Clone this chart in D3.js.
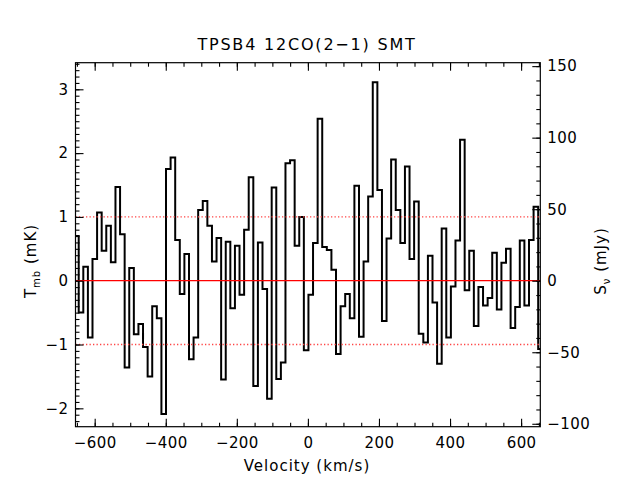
<!DOCTYPE html>
<html>
<head>
<meta charset="utf-8">
<script src="https://cdn.jsdelivr.net/npm/d3@7"></script>
<style>
  body { margin: 0; background: #fff; }
  text { font-family: "DejaVu Sans", sans-serif; fill: #000; }
</style>
</head>
<body>
<div id="chart"></div>
<script>
// spectrum, one value per channel (mK)
var title = "TPSB4  12CO(2\u22121)  SMT";
var xLabel = "Velocity (km/s)";
var chanStart = -657.9, chanWidth = 12.93;   // left edge of first channel, km/s
var tmb = [0.70, -0.50, 0.22, -0.89, 0.34, 1.07, 0.47, 0.86, 0.29, 1.47,
           0.73, -1.36, 0.20, -0.84, -0.68, -1.04, -1.50, -0.40, -0.59, -2.09,
           1.75, 1.93, 0.64, -0.21, 0.42, -1.23, -0.89, 1.11, 1.25, 0.86,
           0.30, 0.67, -1.55, 0.61, -0.43, 0.55, -0.22, 0.80, 1.62, -1.65,
           0.60, -0.13, -1.85, 1.46, -1.54, -1.28, 1.84, 1.89, 0.55, 1.00,
           -1.09, -0.22, 0.59, 2.54, 0.53, 0.48, 0.17, -1.15, -0.40, -0.21,
           -0.59, 1.49, -0.88, 0.30, 1.32, 3.11, 1.42, -0.63, 0.66, 1.90,
           1.11, 0.59, 1.79, 0.34, 1.24, -0.83, -0.97, 0.39, -0.34, -1.30,
           0.82, -0.89, -0.09, 0.63, 2.21, -0.15, 0.47, -0.71, -0.10, -0.39,
           -0.27, 0.44, -0.45, 0.28, 0.50, -0.74, -0.41, 0.63, -0.39, 0.64,
           1.16, -1.07];
var xDomain = [-654, 654];
var yDomain = [-2.288, 3.417];
var mJyPerMK = 44.6;
var xTicks = [-600, -400, -200, 0, 200, 400, 600];
var yTicks = [-2, -1, 0, 1, 2, 3];
var sTicks = [-100, -50, 0, 50, 100, 150];
var refLevels = [-1, 1];

var width = 621,
    height = 488,
    margin = {top: 62.7, right: 80.7, bottom: 61.3, left: 75.5};
var w = width - margin.left - margin.right,
    h = height - margin.top - margin.bottom;

var svg = d3.select("#chart")
    .append("svg")
    .attr("width", width)
    .attr("height", height);

var g = svg.append("g")
    .attr("transform", "translate(" + margin.left + "," + margin.top + ")");

var x = d3.scaleLinear().domain(xDomain).range([0, w]);
var y = d3.scaleLinear().domain(yDomain).range([h, 0]);
var s = d3.scaleLinear().domain(yDomain.map(function(d) { return d * mJyPerMK; })).range([h, 0]);

g.append("clipPath").attr("id", "clip")
  .append("rect").attr("width", w).attr("height", h);

// spectrum as histogram steps
var pts = tmb.map(function(d, i) { return [chanStart + i * chanWidth, d]; });
pts.push([chanStart + tmb.length * chanWidth, tmb[tmb.length - 1]]);

var line = d3.line()
    .x(function(d) { return x(d[0]); })
    .y(function(d) { return y(d[1]); })
    .curve(d3.curveStepAfter);

g.append("path")
    .datum(pts)
    .attr("clip-path", "url(#clip)")
    .attr("fill", "none")
    .attr("stroke", "#000")
    .attr("stroke-width", 2)
    .attr("d", line);

// zero and +-1 mK lines
g.append("line")
    .attr("x1", 0).attr("x2", w)
    .attr("y1", y(0)).attr("y2", y(0))
    .attr("stroke", "#ff0000").attr("stroke-width", 1.3);

g.selectAll(".ref")
  .data(refLevels)
  .enter().append("line")
    .attr("class", "ref")
    .attr("x1", 0).attr("x2", w)
    .attr("y1", function(d) { return y(d); })
    .attr("y2", function(d) { return y(d); })
    .attr("stroke", "#ff4444")
    .attr("stroke-width", 1.3)
    .attr("stroke-dasharray", "1.3,2.2");

// axes
function styleAxis(sel) {
  sel.select(".domain").remove();
  sel.selectAll(".tick line").attr("stroke", "#000").attr("stroke-width", 1.1);
  sel.selectAll("text").attr("font-size", 15).attr("fill", "#000")
     .attr("font-family", "DejaVu Sans").attr("letter-spacing", 0.4);
}

g.append("g").attr("transform", "translate(0," + h + ")")
  .call(d3.axisBottom(x).tickValues(d3.range(-650, 651, 50)).tickSize(-4).tickFormat(""))
  .call(styleAxis);
g.append("g").attr("transform", "translate(0," + h + ")")
  .call(d3.axisBottom(x).tickValues(xTicks).tickSize(-8).tickPadding(11))
  .call(styleAxis);
g.append("g")
  .call(d3.axisTop(x).tickValues(d3.range(-650, 651, 50)).tickSize(-4).tickFormat(""))
  .call(styleAxis);
g.append("g")
  .call(d3.axisTop(x).tickValues(xTicks).tickSize(-8).tickFormat(""))
  .call(styleAxis);

g.append("g")
  .call(d3.axisLeft(y).tickValues(d3.range(-22, 35, 1).map(function(d) { return d / 10; })).tickSize(-4).tickFormat(""))
  .call(styleAxis);
g.append("g")
  .call(d3.axisLeft(y).tickValues(yTicks).tickSize(-8).tickPadding(7).tickFormat(d3.format("d")))
  .call(styleAxis);

g.append("g").attr("transform", "translate(" + w + ",0)")
  .call(d3.axisRight(s).tickValues(d3.range(-100, 151, 10)).tickSize(-4).tickFormat(""))
  .call(styleAxis);
g.append("g").attr("transform", "translate(" + w + ",0)")
  .call(d3.axisRight(s).tickValues(sTicks).tickSize(-8).tickPadding(7))
  .call(styleAxis);

g.append("rect")
    .attr("width", w).attr("height", h)
    .attr("fill", "none")
    .attr("stroke", "#000")
    .attr("stroke-width", 1.2);

// labels
svg.append("text")
    .attr("x", 307).attr("y", 50)
    .attr("text-anchor", "middle")
    .attr("font-size", 16)
    .attr("letter-spacing", 1.8)
    .text(title);

svg.append("text")
    .attr("x", 307).attr("y", 471)
    .attr("text-anchor", "middle")
    .attr("font-size", 15)
    .attr("letter-spacing", 1)
    .text(xLabel);

var yl = svg.append("text")
    .attr("transform", "translate(36,261) rotate(-90)")
    .attr("text-anchor", "middle")
    .attr("font-size", 15)
    .attr("letter-spacing", 1);
yl.append("tspan").text("T");
yl.append("tspan").attr("font-size", 10).attr("dy", 4).text("mb");
yl.append("tspan").attr("dy", -4).text(" (mK)");

var sl = svg.append("text")
    .attr("transform", "translate(606,261) rotate(-90)")
    .attr("text-anchor", "middle")
    .attr("font-size", 15)
    .attr("letter-spacing", 1);
sl.append("tspan").text("S");
sl.append("tspan").attr("font-size", 10).attr("dy", 4).text("\u03bd");
sl.append("tspan").attr("dy", -4).text(" (mJy)");
</script>
</body>
</html>
